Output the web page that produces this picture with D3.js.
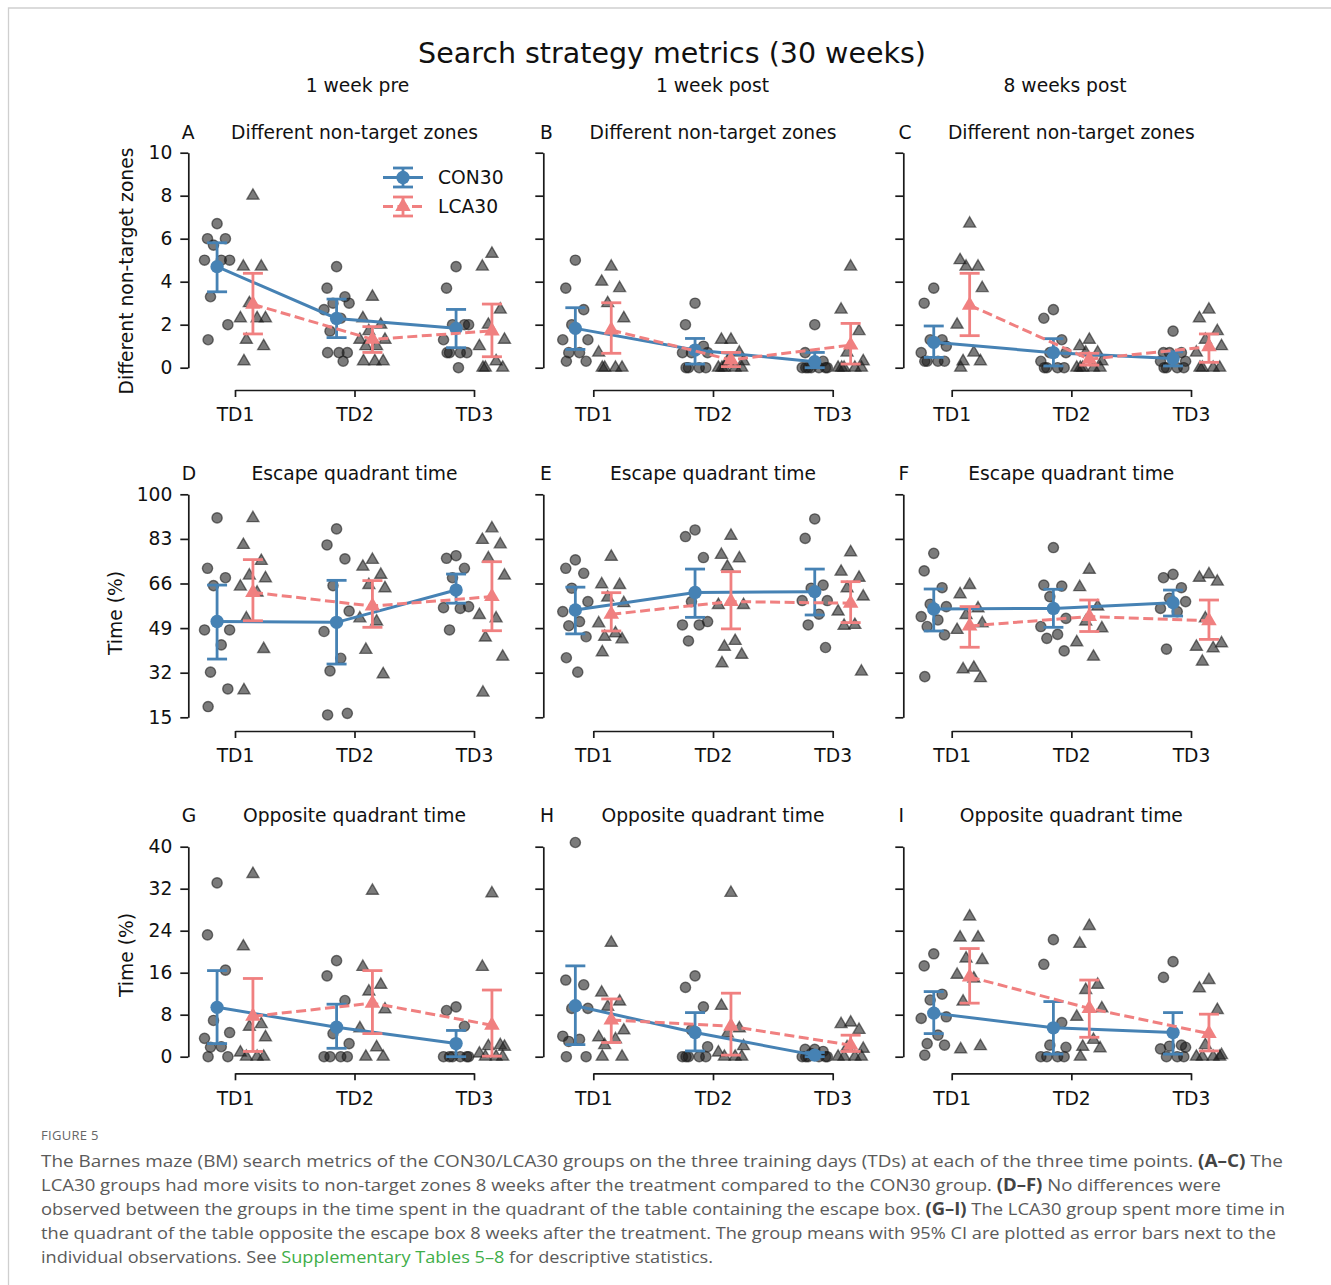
<!DOCTYPE html>
<html>
<head>
<meta charset="utf-8">
<script src="https://cdn.jsdelivr.net/npm/d3@7"></script>
<style>
  body { margin: 0; background: #fff; }
  svg { display: block; }
</style>
</head>
<body>
<svg id="chart" width="1331" height="1285"></svg>
<script>
// ---------------------------------------------------------------
// Categories and labels
// ---------------------------------------------------------------
const days = ["TD1", "TD2", "TD3"];
const groups = ["CON30", "LCA30"];
const timepoints = ["1 week pre", "1 week post", "8 weeks post"];
const metricTitles = ["Different non-target zones", "Escape quadrant time", "Opposite quadrant time"];
const metricYLabels = ["Different non-target zones", "Time (%)", "Time (%)"];
const panelLetters = [["A", "B", "C"], ["D", "E", "F"], ["G", "H", "I"]];
const yTicksZones = [0, 2, 4, 6, 8, 10];
const yTicksEscape = [15, 32, 49, 66, 83, 100];
const yTicksOpposite = [0, 8, 16, 24, 32, 40];

// ---------------------------------------------------------------
// Individual observations, indexed [timepoint][training day]
// ---------------------------------------------------------------
const zonesCON = [
  [[6.7, 6.0, 6.0, 5.7, 5.0, 5.0, 5.0, 3.3, 2.0, 1.3],
   [4.7, 3.7, 3.3, 3.0, 3.0, 2.7, 2.3, 1.7, 0.7, 0.7, 0.7, 0.3],
   [4.7, 3.7, 2.0, 2.0, 2.0, 1.3, 0.7, 0.7, 0.7, 0.7, 0.0]],
  [[5.0, 3.7, 2.7, 2.0, 1.3, 1.3, 0.7, 0.7, 0.3, 0.3],
   [3.0, 2.0, 1.0, 0.7, 0.7, 0.7, 0, 0, 0, 0],
   [2.0, 0.7, 0.3, 0, 0, 0, 0, 0, 0, 0]],
  [[3.7, 3.0, 1.3, 1.3, 1.0, 0.7, 0.3, 0.3, 0.3, 0.3],
   [2.7, 2.3, 1.3, 0.7, 0.7, 0.3, 0, 0, 0, 0],
   [1.7, 0.7, 0.7, 0.7, 0.3, 0.3, 0, 0, 0, 0]]
];
const zonesLCA = [
  [[8.0, 4.7, 4.7, 3.0, 2.3, 2.3, 2.3, 1.3, 1.0, 0.3],
   [3.3, 2.3, 2.0, 1.7, 1.3, 1.3, 1.0, 1.0, 0.3, 0.3, 0.3],
   [5.3, 4.7, 2.7, 2.0, 1.3, 1.0, 0.3, 0, 0, 0]],
  [[4.7, 4.0, 3.7, 3.0, 2.3, 0.7, 0, 0, 0, 0],
   [1.3, 1.3, 0.7, 0.3, 0.3, 0, 0, 0, 0, 0],
   [4.7, 2.7, 1.7, 0.7, 0.3, 0, 0, 0, 0, 0]],
  [[6.7, 5.0, 4.7, 4.7, 3.7, 2.0, 0.7, 0.3, 0.3, 0],
   [1.3, 1.0, 0.7, 0.7, 0.3, 0, 0, 0, 0, 0],
   [2.7, 2.3, 1.7, 1.3, 1.0, 0.7, 0, 0, 0, 0]]
];
const escapeCON = [
  [[91, 71.8, 68.2, 65.2, 48.3, 48.3, 42.6, 32.2, 25.8, 19.1],
   [86.8, 80.7, 75.4, 65.2, 55.5, 47.7, 37.5, 32.7, 16.5, 15.9],
   [76.6, 75.6, 71.8, 68.2, 57.2, 56.8, 56.5, 48.3]],
  [[75, 71.8, 69.9, 64.2, 59.1, 55.3, 51.5, 49.9, 45.7, 37.7, 32.2],
   [86.4, 83.9, 75.9, 59.1, 51.5, 50.2, 50.2, 44.1],
   [90.6, 83.2, 65.4, 64.2, 59.5, 59.5, 54.3, 50.2, 41.6]],
  [[77.5, 70.8, 64.4, 58.1, 57.2, 53.4, 52.1, 49.6, 46.4, 30.5],
   [79.7, 65.4, 65.0, 61.0, 52.7, 49.6, 46.6, 45.1, 40.3],
   [69.5, 68.2, 64.4, 60.4, 59.1, 56.5, 55.3, 41.0]]
];
const escapeLCA = [
  [[90.9, 80.7, 74.6, 69, 68, 64.8, 62.5, 52.7, 41.0, 25.3],
   [75, 72.4, 69.3, 65.4, 64.2, 52.7, 51.5, 40.7, 31.4],
   [87, 82.6, 80.9, 75.6, 69, 54, 52.7, 45.4, 38.1, 24.4]],
  [[76.2, 65.7, 65.4, 60.6, 58.5, 50.8, 47, 45.7, 44.7, 39.8],
   [84.2, 76.9, 75.6, 72.4, 57.8, 57.8, 44.1, 41.9, 38.8, 35.6],
   [77.9, 70.5, 68.2, 64.2, 61, 55.3, 50.2, 49.9, 32.4]],
  [[65.4, 61.9, 56.5, 54.0, 50.8, 48.3, 33.9, 33.3, 29.9],
   [71.2, 64.6, 57.2, 51.5, 48.9, 43.6, 38.1],
   [69.5, 68.2, 66.7, 52.7, 43.2, 41.9, 41.3, 36.2]]
];
const oppositeCON = [
  [[33.1, 23.2, 16.5, 6.9, 4.6, 3.5, 1.9, 1.8, 0, 0],
   [18.3, 15.4, 10.7, 4.4, 2.5, 0, 0, 0, 0],
   [9.5, 8.8, 5.8, 0, 0, 0, 0, 0, 0]],
  [[40.8, 14.6, 13.7, 9.2, 9.2, 3.9, 3.3, 2.9, 0, 0],
   [15.4, 13.2, 9.5, 5.1, 1.9, 0, 0, 0, 0, 0],
   [1.4, 1.4, 1.0, 0.6, 0, 0, 0, 0, 0, 0]],
  [[19.6, 17.3, 11.9, 10.8, 7.6, 7.3, 4.1, 2.5, 2.2, 0.3],
   [22.3, 17.6, 6.5, 2.2, 1.8, 0, 0, 0, 0],
   [18.1, 15.1, 2.2, 2.0, 1.8, 1.5, 0, 0, 0]]
];
const oppositeLCA = [
  [[34.8, 21.0, 6.2, 5.7, 3.7, 0.8, 0, 0, 0],
   [31.6, 17.1, 13.7, 12.4, 9.0, 5.4, 1.8, 0, 0],
   [31.1, 17.1, 2.2, 2.0, 1.9, 0.6, 0, 0, 0]],
  [[21.7, 12.2, 10.5, 9.5, 5.0, 3.7, 3.3, 2.2, 0, 0],
   [31.2, 9.7, 5.4, 4.4, 2.0, 0.8, 0, 0, 0],
   [6.5, 6.2, 5.1, 1.8, 1.5, 0, 0, 0, 0]],
  [[26.7, 22.7, 22.7, 18.7, 18.4, 15.6, 14.9, 10.5, 2.0, 1.4],
   [24.9, 21.5, 13.7, 12.7, 9.2, 7.6, 3.2, 1.9, 1.6, 0],
   [14.6, 13.0, 8.9, 2.2, 0.3, 0, 0, 0, 0]]
];

// ---------------------------------------------------------------
// Group means with 95% CI, indexed [timepoint][training day]
// ---------------------------------------------------------------
const zonesCONMean = [[4.7, 2.29, 1.83], [1.83, 0.82, 0.28], [1.18, 0.70, 0.43]];
const zonesCONLow  = [[3.53, 1.40, 0.93], [0.85, 0.17, 0.0], [0.48, 0.08, 0.08]];
const zonesCONHigh = [[5.81, 3.19, 2.71], [2.79, 1.36, 0.71], [1.94, 1.35, 0.74]];
const zonesLCAMean = [[2.95, 1.32, 1.71], [1.75, 0.36, 1.05], [2.91, 0.39, 0.98]];
const zonesLCALow  = [[1.57, 0.71, 0.51], [0.67, 0.05, 0.17], [1.49, 0.12, 0.25]];
const zonesLCAHigh = [[4.39, 1.91, 2.96], [3.02, 0.71, 2.06], [4.39, 0.67, 1.57]];

const escapeCONMean = [[51.5, 51.2, 63.5], [55.9, 62.6, 62.9], [56.3, 56.5, 58.7]];
const escapeCONLow  = [[37.2, 35.3, 58.5], [46.8, 53.1, 54.0], [47.9, 49.3, 53.6]];
const escapeCONHigh = [[65.4, 67.2, 69.6], [64.6, 71.5, 71.5], [63.9, 63.8, 63.5]];
const escapeLCAMean = [[62.6, 57.4, 61.0], [54.3, 59.1, 58.5], [49.8, 53.4, 51.8]];
const escapeLCALow  = [[51.8, 49.3, 48.0], [47.9, 48.7, 51.1], [41.7, 47.7, 44.7]];
const escapeLCAHigh = [[75.1, 67.1, 74.3], [62.5, 70.5, 66.7], [57.2, 59.7, 59.7]];

const oppositeCONMean = [[9.4, 5.6, 2.5], [9.7, 4.6, 0.3], [8.3, 5.5, 4.6]];
const oppositeCONLow  = [[2.5, 1.6, 0.0], [2.3, 1.1, 0.0], [4.4, 0.5, 0.5]];
const oppositeCONHigh = [[16.4, 10.0, 5.0], [17.3, 8.4, 0.8], [12.4, 10.5, 8.4]];
const oppositeLCAMean = [[7.7, 10.2, 6.0], [7.0, 5.8, 2.2], [15.2, 9.2, 4.4]];
const oppositeLCALow  = [[1.0, 4.4, 0.1], [2.7, 0.3, 1.0], [10.2, 3.7, 1.1]];
const oppositeLCAHigh = [[14.9, 16.4, 12.7], [11.0, 12.1, 4.1], [20.6, 14.6, 8.1]];

// ---------------------------------------------------------------
// Assemble rows (metric) for drawing
// ---------------------------------------------------------------
const rows = [
  { ticks: yTicksZones, obs: [zonesCON, zonesLCA],
    mean: [zonesCONMean, zonesLCAMean], low: [zonesCONLow, zonesLCALow], high: [zonesCONHigh, zonesLCAHigh] },
  { ticks: yTicksEscape, obs: [escapeCON, escapeLCA],
    mean: [escapeCONMean, escapeLCAMean], low: [escapeCONLow, escapeLCALow], high: [escapeCONHigh, escapeLCAHigh] },
  { ticks: yTicksOpposite, obs: [oppositeCON, oppositeLCA],
    mean: [oppositeCONMean, oppositeLCAMean], low: [oppositeCONLow, oppositeLCALow], high: [oppositeCONHigh, oppositeLCAHigh] }
];

// ---------------------------------------------------------------
// Layout
// ---------------------------------------------------------------
const FONT = "DejaVu Sans, Verdana, sans-serif";
const FS = 18.7;
const colorCON = "#4682b4";
const colorLCA = "#f08080";
const groupColors = [colorCON, colorLCA];
const dodge = [-0.15, 0.15];                  // category units
const jitterPattern = [0.0, -0.08, 0.07, -0.03, 0.105, -0.105, 0.035, -0.055, 0.09, -0.075, 0.02, 0.055];

const colTD1 = [235, 593.3, 951.7];          // x of TD1 per column
const colTD3 = [474, 832.7, 1191];           // x of TD3 per column
const colYAxis = [188.3, 543.3, 903.3];
const colHeaderX = [357.5, 712.5, 1065];
const rowYRange = [[367.7, 152.7], [717.3, 494.3], [1056.7, 846.7]];
const rowSpine = [390, 731, 1073.3];
const rowTitleY = [132, 473.3, 815];
const rowYLabel = [[126, 271], [115, 613], [126, 955]];

const svg = d3.select("#chart");

// light frame around the figure
svg.append("path")
  .attr("d", "M8.5,1285 V8 H1331")
  .attr("fill", "none").attr("stroke", "#cfcfcf").attr("stroke-width", 1.3);

// overall title and column headers
svg.append("text").attr("x", 672).attr("y", 53)
  .attr("text-anchor", "middle").attr("dominant-baseline", "central")
  .attr("font-family", FONT).attr("font-size", 28.5).attr("fill", "#111")
  .text("Search strategy metrics (30 weeks)");
timepoints.forEach((t, c) => {
  svg.append("text").attr("x", colHeaderX[c]).attr("y", 85)
    .attr("text-anchor", "middle").attr("dominant-baseline", "central")
    .attr("font-family", FONT).attr("font-size", FS).attr("fill", "#111")
    .text(t);
});

const triangle = (area) => d3.symbol().type(d3.symbolTriangle).size(area)();
const circle = (area) => d3.symbol().type(d3.symbolCircle).size(area)();

rows.forEach((row, r) => {
  timepoints.forEach((tp, c) => {
    const g = svg.append("g");
    const x = d3.scalePoint().domain(days).range([colTD1[c], colTD3[c]]);
    const step = x.step();
    const y = d3.scaleLinear().domain(d3.extent(row.ticks)).range(rowYRange[r]);

    // y axis (trimmed to tick range)
    const yAxis = d3.axisLeft(y).tickValues(row.ticks).tickSize(8).tickSizeOuter(0).tickPadding(8)
      .tickFormat(c === 0 ? d3.format("d") : () => "");
    const ya = g.append("g").attr("transform", `translate(${colYAxis[c]},0)`).call(yAxis);

    // x axis offset below the data area
    const xAxis = d3.axisBottom(x).tickSize(7).tickSizeOuter(0).tickPadding(11);
    const xa = g.append("g").attr("transform", `translate(0,${rowSpine[r]})`).call(xAxis);

    [ya, xa].forEach(a => {
      a.select(".domain").attr("stroke", "#1a1a1a").attr("stroke-width", 1.7);
      a.selectAll(".tick line").attr("stroke", "#1a1a1a").attr("stroke-width", 1.7);
      a.selectAll(".tick text").attr("font-family", FONT).attr("font-size", FS).attr("fill", "#111");
    });

    // panel letter and title
    g.append("text").attr("x", colTD1[c] - 53.3).attr("y", rowTitleY[r])
      .attr("dominant-baseline", "central")
      .attr("font-family", FONT).attr("font-size", FS).attr("fill", "#111")
      .text(panelLetters[r][c]);
    g.append("text").attr("x", x("TD2")).attr("y", rowTitleY[r])
      .attr("text-anchor", "middle").attr("dominant-baseline", "central")
      .attr("font-family", FONT).attr("font-size", FS).attr("fill", "#111")
      .text(metricTitles[r]);

    if (c === 0) {
      g.append("text")
        .attr("transform", `translate(${rowYLabel[r][0]},${rowYLabel[r][1]}) rotate(-90)`)
        .attr("text-anchor", "middle").attr("dominant-baseline", "central")
        .attr("font-family", FONT).attr("font-size", FS).attr("fill", "#111")
        .text(metricYLabels[r]);
    }

    // individual observations (strip)
    groups.forEach((grp, gi) => {
      days.forEach((d, di) => {
        const vals = row.obs[gi][c][di];
        g.selectAll(null).data(vals).enter().append("path")
          .attr("d", gi === 0 ? circle(82) : triangle(62))
          .attr("transform", (v, i) =>
            `translate(${x(d) + (dodge[gi] + jitterPattern[i % jitterPattern.length]) * step},${y(v)})`)
          .attr("fill", "#1c1c1c").attr("fill-opacity", 0.58)
          .attr("stroke", "#1c1c1c").attr("stroke-opacity", 0.58).attr("stroke-width", 1.4);
      });
    });

    // group means with 95% CI
    groups.forEach((grp, gi) => {
      const col = groupColors[gi];
      const pts = days.map((d, di) => ({
        x: x(d) + dodge[gi] * step,
        m: row.mean[gi][c][di], lo: row.low[gi][c][di], hi: row.high[gi][c][di]
      }));
      g.append("path")
        .attr("d", d3.line().x(p => p.x).y(p => y(p.m))(pts))
        .attr("fill", "none").attr("stroke", col).attr("stroke-width", 3)
        .attr("stroke-dasharray", gi === 1 ? "10,4.5" : null);
      pts.forEach(p => {
        g.append("line").attr("x1", p.x).attr("x2", p.x).attr("y1", y(p.lo)).attr("y2", y(p.hi))
          .attr("stroke", col).attr("stroke-width", 2.8);
        [p.lo, p.hi].forEach(v => {
          g.append("line").attr("x1", p.x - 10).attr("x2", p.x + 10).attr("y1", y(v)).attr("y2", y(v))
            .attr("stroke", col).attr("stroke-width", 2.8);
        });
        g.append("path")
          .attr("d", gi === 0 ? circle(140) : triangle(105))
          .attr("transform", `translate(${p.x},${y(p.m)})`)
          .attr("fill", col);
      });
    });

    // legend in the first panel
    if (r === 0 && c === 0) {
      const lg = g.append("g");
      groups.forEach((grp, gi) => {
        const ly = 177.5 + gi * 29;
        const col = groupColors[gi];
        lg.append("line").attr("x1", 383).attr("x2", 423).attr("y1", ly).attr("y2", ly)
          .attr("stroke", col).attr("stroke-width", 3)
          .attr("stroke-dasharray", gi === 1 ? "10,4.5" : null);
        lg.append("line").attr("x1", 403).attr("x2", 403).attr("y1", ly - 9.5).attr("y2", ly + 9.5)
          .attr("stroke", col).attr("stroke-width", 2.8);
        [-9.5, 9.5].forEach(o => lg.append("line")
          .attr("x1", 393).attr("x2", 413).attr("y1", ly + o).attr("y2", ly + o)
          .attr("stroke", col).attr("stroke-width", 2.8));
        lg.append("path").attr("d", gi === 0 ? circle(140) : triangle(105))
          .attr("transform", `translate(403,${ly})`).attr("fill", col);
        lg.append("text").attr("x", 438).attr("y", ly).attr("dominant-baseline", "central")
          .attr("font-family", FONT).attr("font-size", FS).attr("fill", "#111").text(grp);
      });
    }
  });
});

// ---------------------------------------------------------------
// Figure caption
// ---------------------------------------------------------------
const CAP_FONT = "Open Sans, Lato, sans-serif";
svg.append("text").attr("x", 41).attr("y", 1140)
  .attr("font-family", CAP_FONT).attr("font-size", 13).attr("fill", "#666")
  .attr("letter-spacing", 0.3).text("FIGURE 5");

const captionLines = [
  { len: 1242, parts: [["The Barnes maze (BM) search metrics of the CON30/LCA30 groups on the three training days (TDs) at each of the three time points. ", 0], ["(A\u2013C)", 1], [" The", 0]] },
  { len: 1180, parts: [["LCA30 groups had more visits to non-target zones 8 weeks after the treatment compared to the CON30 group. ", 0], ["(D\u2013F)", 1], [" No differences were", 0]] },
  { len: 1244, parts: [["observed between the groups in the time spent in the quadrant of the table containing the escape box. ", 0], ["(G\u2013I)", 1], [" The LCA30 group spent more time in", 0]] },
  { len: 1235, parts: [["the quadrant of the table opposite the escape box 8 weeks after the treatment. The group means with 95% CI are plotted as error bars next to the", 0]] },
  { len: 672, parts: [["individual observations. See ", 0], ["Supplementary Tables 5\u20138", 2], [" for descriptive statistics.", 0]] }
];
captionLines.forEach((ln, i) => {
  const t = svg.append("text").attr("x", 41).attr("y", 1167 + i * 24)
    .attr("font-family", CAP_FONT).attr("font-size", 17).attr("fill", "#5a5a5a")
    .attr("textLength", ln.len).attr("lengthAdjust", "spacingAndGlyphs");
  ln.parts.forEach(([s, kind]) => {
    const ts = t.append("tspan").text(s);
    if (kind === 1) ts.attr("font-weight", "bold").attr("fill", "#444");
    if (kind === 2) ts.attr("fill", "#3fae49");
  });
});
</script>
</body>
</html>
